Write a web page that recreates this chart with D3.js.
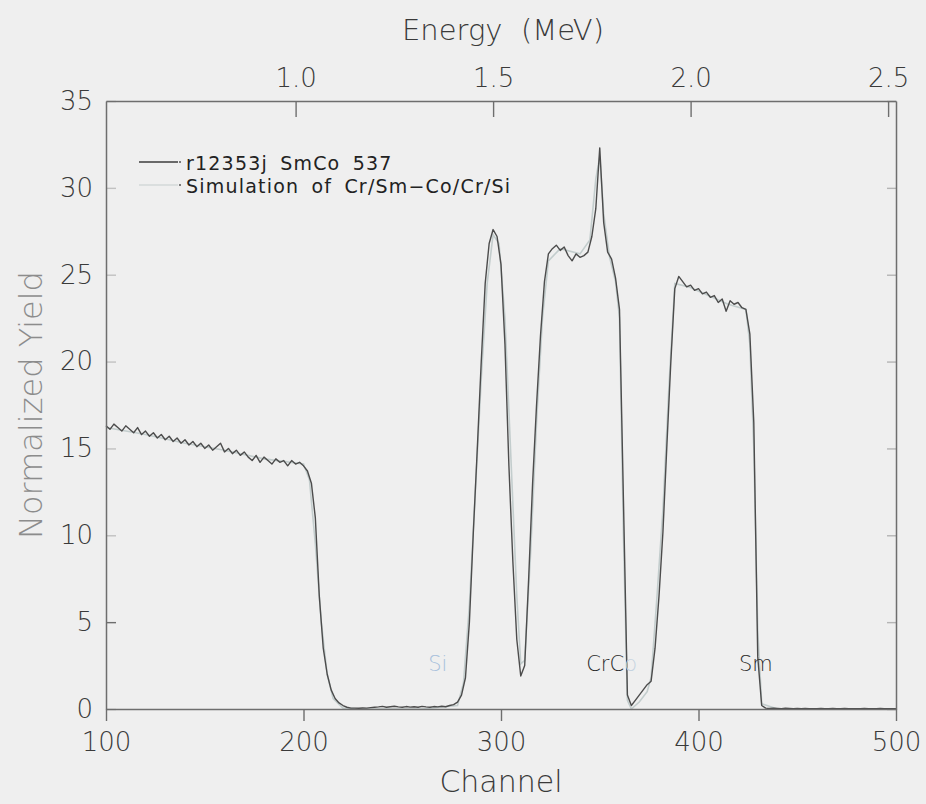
<!DOCTYPE html>
<html><head><meta charset="utf-8">
<script src="https://cdn.jsdelivr.net/npm/d3@7"></script>
<style>
html,body{margin:0;padding:0;background:#efefef;}
svg{display:block;}
text{font-family:"DejaVu Sans",sans-serif;}
</style></head><body>
<svg id="chart" width="926" height="804"></svg>
<script>
// ---- data ----
const channelStart = 100, channelStep = 2;
const measuredYield = [
 16.3,16.1,16.4,16.2,16.0,16.3,16.1,15.9,16.2,15.8,
 16.0,15.7,15.9,15.6,15.8,15.5,15.7,15.4,15.6,15.3,
 15.5,15.2,15.4,15.1,15.3,15.0,15.2,14.9,15.1,15.3,
 14.8,15.0,14.7,14.9,14.6,14.8,14.5,14.3,14.6,14.2,
 14.5,14.3,14.1,14.4,14.2,14.3,14.0,14.3,14.1,14.2,
 14.0,13.7,13.0,11.0,6.5,3.5,2.0,1.1,0.6,0.35,
 0.2,0.1,0.05,0.05,0.04,0.06,0.05,0.08,0.1,0.12,
 0.15,0.1,0.13,0.16,0.12,0.1,0.14,0.11,0.13,0.1,
 0.15,0.12,0.1,0.14,0.12,0.16,0.13,0.2,0.25,0.4,
 0.8,1.8,5.0,10.2,15.0,20.0,24.5,26.8,27.6,27.2,
 25.6,21.0,14.0,8.5,4.0,1.9,2.5,7.5,13.0,17.5,
 21.5,24.6,26.2,26.5,26.7,26.4,26.6,26.1,25.8,26.2,
 26.0,26.1,26.3,27.2,28.8,32.3,28.0,26.3,25.9,24.8,
 23.0,12.0,0.8,0.2,0.5,0.8,1.1,1.4,1.6,3.5,
 6.5,10.2,15.2,20.0,24.2,24.9,24.6,24.3,24.4,24.1,
 24.2,23.9,24.0,23.7,23.8,23.4,23.6,22.9,23.5,23.3,
 23.4,23.1,23.0,21.6,16.5,3.0,0.2,0.05,0.03,0.04,
 0.03,0.02,0.04,0.03,0.02,0.03,0.02,0.03,0.02,0.02,
 0.02,0.03,0.02,0.02,0.03,0.02,0.02,0.03,0.02,0.02,
 0.02,0.02,0.03,0.02,0.02,0.02,0.03,0.02,0.02,0.02,
 0.02
];
const simChannels = [100,120,140,160,180,200,203,206,209,212,215,220,230,260,278,281,284,287,290,293,296,299,302,305,308,310,312,315,318,321,324,330,340,345,348,350,352,355,358,360,362,364,366,370,374,376,379,382,385,388,395,405,415,424,426,428,430,432,440,500];
const simYield = [16.2,15.8,15.3,14.9,14.4,14.1,13.2,9.5,5.0,2.0,0.6,0.05,0.0,0.0,0.2,1.5,6.0,12.5,19.0,24.5,27.3,26.8,22.5,14.5,6.5,2.6,2.8,9.0,16.5,22.5,25.8,26.5,26.2,27.0,30.5,31.8,28.5,26.0,24.6,22.5,10.0,0.5,0.0,0.4,1.0,1.8,6.5,11.5,18.5,24.5,24.3,23.8,23.3,23.0,21.0,15.0,4.5,0.3,0.0,0.0];
const channelTicks = [100,200,300,400,500];
const yieldTicks = [0,5,10,15,20,25,30,35];
const energyTicks = [1.0,1.5,2.0,2.5];
const energyAtChannel100 = 0.52, energyAtChannel500 = 2.52;
const legendLabels = ["r12353j SmCo 537","Simulation of Cr/Sm\u2212Co/Cr/Si"];
const elementNames = ["Si","CrCo","Sm"];
const elementChannels = [268,356,429];
const elementYield = 2.2;

// ---- layout ----
const svg = d3.select("#chart");
const L = 106, R = 896, T = 101, B = 709;
const x = d3.scaleLinear().domain([100,500]).range([L,R]);
const y = d3.scaleLinear().domain([0,35]).range([B,T]);
const xE = d3.scaleLinear().domain([energyAtChannel100,energyAtChannel500]).range([L,R]);
const axisColor = "#6e6e6e", textColor = "#3a3a3a";

const measured = measuredYield.map((v,i)=>({c:channelStart+i*channelStep, v}));
const sim = simChannels.map((c,i)=>({c, v:simYield[i]}));
const line = d3.line().x(d=>x(d.c)).y(d=>y(d.v));

// simulation underneath
svg.append("path").datum(sim).attr("d",line)
  .attr("fill","none").attr("stroke","#c3cdcd").attr("stroke-width",1.6);
svg.append("path").datum(measured).attr("d",line)
  .attr("fill","none").attr("stroke","#4c4c4c").attr("stroke-width",1.4)
  .attr("stroke-linejoin","round");

function styleAxis(g){
  g.selectAll(".domain").attr("stroke",axisColor).attr("stroke-width",1.5);
  g.selectAll(".tick line").attr("stroke",axisColor).attr("stroke-width",1.4);
  g.selectAll(".tick text").attr("fill",textColor).style("font-family","DejaVu Sans, sans-serif").style("font-size","26px").style("font-weight","300");
}
const gb = svg.append("g").attr("transform",`translate(0,${B})`)
  .call(d3.axisBottom(x).tickValues(channelTicks).tickSize(12).tickSizeOuter(0).tickPadding(8));
styleAxis(gb);
gb.selectAll(".tick text").attr("dy","0.85em");
const gl = svg.append("g").attr("transform",`translate(${L},0)`)
  .call(d3.axisLeft(y).tickValues(yieldTicks).tickSize(-10).tickSizeOuter(0).tickPadding(13));
styleAxis(gl);
gl.selectAll(".tick line").attr("stroke-opacity",(d)=> d===5?1:0.35);
const gt = svg.append("g").attr("transform",`translate(0,${T})`)
  .call(d3.axisTop(xE).tickValues(energyTicks).tickSize(-16).tickSizeOuter(0).tickPadding(14).tickFormat(d3.format(".1f")));
styleAxis(gt);
const gr = svg.append("g").attr("transform",`translate(${R},0)`)
  .call(d3.axisRight(y).tickValues(yieldTicks).tickSize(-9).tickSizeOuter(0).tickFormat(""));
styleAxis(gr);
gr.selectAll(".tick line").attr("stroke-opacity",0.45);

// titles
svg.append("text").attr("x",503).attr("y",40).attr("text-anchor","middle")
  .attr("fill",textColor).style("font-size","29px").style("font-weight","300")
  .attr("xml:space","preserve").text("Energy  (MeV)");
svg.append("text").attr("x",501).attr("y",792).attr("text-anchor","middle")
  .attr("fill",textColor).style("font-size","30px").style("font-weight","300").text("Channel");
svg.append("text").attr("transform",`translate(42,${(T+B)/2}) rotate(-90)`)
  .attr("text-anchor","middle").attr("fill","#8c8c8c")
  .style("font-size","32px").style("font-weight","300").text("Normalized Yield");

// legend
const legendStroke = ["#3c3c3c","#d3d9d9"];
legendLabels.forEach((t,i)=>{
  const ly = 164 + i*23;
  svg.append("line").attr("x1",139).attr("x2",178).attr("y1",ly-2).attr("y2",ly-2)
    .attr("stroke",legendStroke[i]).attr("stroke-width",1.6);
  svg.append("circle").attr("cx",180).attr("cy",ly-2).attr("r",1).attr("fill","#555");
  svg.append("text").attr("x",186).attr("y",ly+6).attr("fill","#222")
    .style("font-size","19px").style("letter-spacing","1.2px").style("word-spacing","5px")
    .text(t);
});

// element labels
elementNames.forEach((n,i)=>{
  const t = svg.append("text").attr("x",x(elementChannels[i])).attr("y",y(elementYield))
    .attr("text-anchor","middle").style("font-size","21px").style("font-weight","300");
  if(n==="Si"){ t.attr("fill","#a7bfdc").text(n); }
  else if(n==="CrCo"){
    t.append("tspan").attr("fill","#2a2a2a").text("CrC");
    t.append("tspan").attr("fill","#c5d3e0").text("o");
  } else { t.attr("fill","#2a2a2a").text(n); }
});
</script>
</body></html>
